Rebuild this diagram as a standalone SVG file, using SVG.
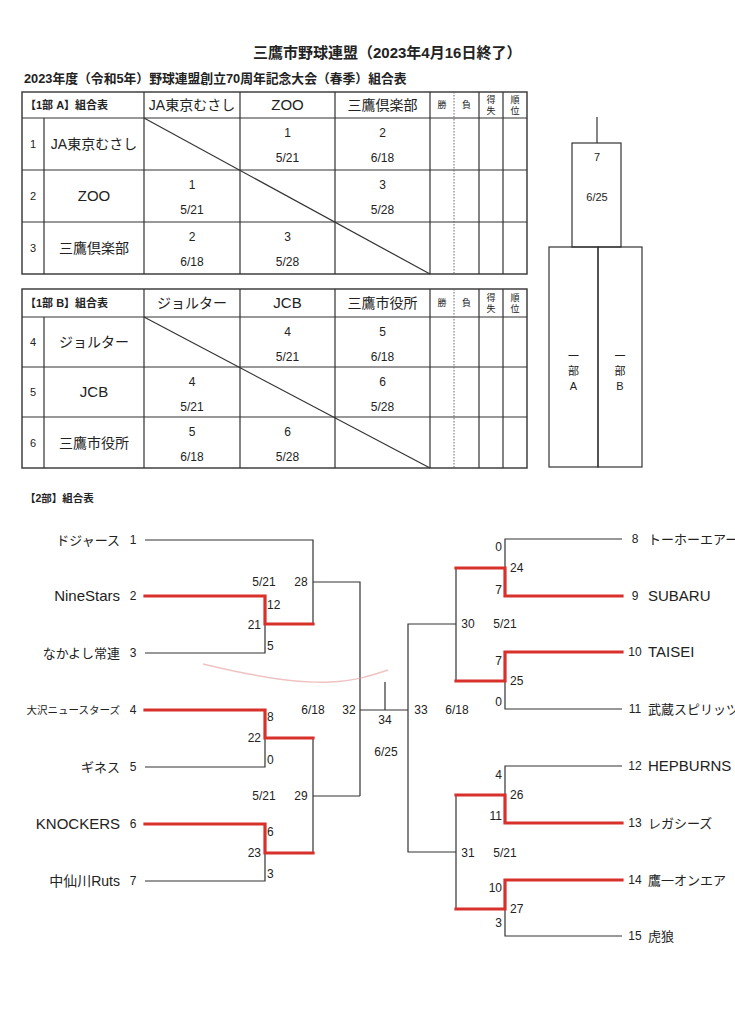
<svg xmlns="http://www.w3.org/2000/svg" width="735" height="1024" viewBox="0 0 735 1024">
<style>
.bg{fill:#fff}
.ln{stroke:#333;stroke-width:1.2;fill:none}
.ot{stroke:#333;stroke-width:1.4;fill:none}
.dt{stroke:#666;stroke-width:1;stroke-dasharray:1.5 1.5;fill:none}
.rd{stroke:#d8302a;stroke-width:3.2;fill:none;stroke-linecap:square}
.t{font-family:'Liberation Sans','Noto Sans CJK JP',sans-serif;fill:#222}
.b{font-weight:bold}
.m{text-anchor:middle}
.e{text-anchor:end}
.n12{font-size:12px}
.n13{font-size:13px}
.h14{font-size:14px}
.h15{font-size:15px}
.s9{font-size:9px}
.s11{font-size:11px}
</style>
<rect class="bg" x="0" y="0" width="735" height="1024"/>

<g id="title">
<text class="t b" x="253" y="58" style="font-size:15px">三鷹市野球連盟（2023年4月16日終了）</text>
<text class="t b" x="24" y="83" style="font-size:12.8px">2023年度（令和5年）野球連盟創立70周年記念大会（春季）組合表</text>
</g>

<g id="tableA">
<rect class="ot" x="22" y="92" width="505" height="182"/>
<path class="ln" d="M22,118H527M22,170H527M22,222H527M44,118V274M144,92V274M240,92V274M335,92V274M430,92V274M479,92V274M503,92V274"/>
<path class="dt" d="M454,92V274"/>
<path class="ln" d="M144,118L430,274"/>
<text class="t b s11" x="25" y="109">【1部 A】組合表</text>
<text class="t h14 m" x="192" y="110">JA東京むさし</text>
<text class="t h15 m" x="287.5" y="110">ZOO</text>
<text class="t h14 m" x="382.5" y="110">三鷹倶楽部</text>
<text class="t s9 m" x="442" y="108">勝</text>
<text class="t s9 m" x="466.5" y="108">負</text>
<text class="t s9 m" x="491" y="103">得</text><text class="t s9 m" x="491" y="114">失</text>
<text class="t s9 m" x="515" y="103">順</text><text class="t s9 m" x="515" y="114">位</text>
<text class="t s11 m" x="33" y="148">1</text>
<text class="t h14 m" x="94" y="149">JA東京むさし</text>
<text class="t s11 m" x="33" y="200">2</text>
<text class="t h15 m" x="94" y="201">ZOO</text>
<text class="t s11 m" x="33" y="252">3</text>
<text class="t h14 m" x="94" y="253">三鷹倶楽部</text>
<text class="t n12 m" x="287.5" y="137">1</text><text class="t n12 m" x="287.5" y="162">5/21</text>
<text class="t n12 m" x="382.5" y="137">2</text><text class="t n12 m" x="382.5" y="162">6/18</text>
<text class="t n12 m" x="192" y="189">1</text><text class="t n12 m" x="192" y="214">5/21</text>
<text class="t n12 m" x="382.5" y="189">3</text><text class="t n12 m" x="382.5" y="214">5/28</text>
<text class="t n12 m" x="192" y="241">2</text><text class="t n12 m" x="192" y="266">6/18</text>
<text class="t n12 m" x="287.5" y="241">3</text><text class="t n12 m" x="287.5" y="266">5/28</text>
</g>

<g id="tableB">
<rect class="ot" x="22" y="289" width="505" height="179"/>
<path class="ln" d="M22,317H527M22,367H527M22,417H527M44,317V468M144,289V468M240,289V468M335,289V468M430,289V468M479,289V468M503,289V468"/>
<path class="dt" d="M454,289V468"/>
<path class="ln" d="M144,317L430,468"/>
<text class="t b s11" x="25" y="307">【1部 B】組合表</text>
<text class="t h14 m" x="192" y="308">ジョルター</text>
<text class="t h15 m" x="287.5" y="308">JCB</text>
<text class="t h14 m" x="382.5" y="308">三鷹市役所</text>
<text class="t s9 m" x="442" y="306">勝</text>
<text class="t s9 m" x="466.5" y="306">負</text>
<text class="t s9 m" x="491" y="301">得</text><text class="t s9 m" x="491" y="312">失</text>
<text class="t s9 m" x="515" y="301">順</text><text class="t s9 m" x="515" y="312">位</text>
<text class="t s11 m" x="33" y="346">4</text>
<text class="t h14 m" x="94" y="347">ジョルター</text>
<text class="t s11 m" x="33" y="396">5</text>
<text class="t h15 m" x="94" y="397">JCB</text>
<text class="t s11 m" x="33" y="447">6</text>
<text class="t h14 m" x="94" y="448">三鷹市役所</text>
<text class="t n12 m" x="287.5" y="336">4</text><text class="t n12 m" x="287.5" y="361">5/21</text>
<text class="t n12 m" x="382.5" y="336">5</text><text class="t n12 m" x="382.5" y="361">6/18</text>
<text class="t n12 m" x="192" y="386">4</text><text class="t n12 m" x="192" y="411">5/21</text>
<text class="t n12 m" x="382.5" y="386">6</text><text class="t n12 m" x="382.5" y="411">5/28</text>
<text class="t n12 m" x="192" y="436">5</text><text class="t n12 m" x="192" y="461">6/18</text>
<text class="t n12 m" x="287.5" y="436">6</text><text class="t n12 m" x="287.5" y="461">5/28</text>
</g>

<g id="final1">
<path class="ln" d="M597,117V143"/>
<rect class="ln" x="572" y="143" width="49" height="104"/>
<text class="t s11 m" x="597" y="161">7</text>
<text class="t s11 m" x="597" y="201">6/25</text>
</g>
<g id="div1A">
<rect class="ln" x="549" y="247" width="49" height="220"/>
<text class="t s11 m" x="573.5" y="360">一</text>
<text class="t s11 m" x="573.5" y="375">部</text>
<text class="t s11 m" x="573.5" y="390">A</text>
</g>
<g id="div1B">
<rect class="ln" x="598" y="247" width="44" height="220"/>
<text class="t s11 m" x="620" y="360">一</text>
<text class="t s11 m" x="620" y="375">部</text>
<text class="t s11 m" x="620" y="390">B</text>
</g>

<text class="t b" x="25" y="502" style="font-size:10.5px">【2部】組合表</text>

<g id="connectors">
<path class="ln" d="M145,540H313V624M145,653H265V624M313,582H360V796M145,767H265V738M313,738V853M145,881H265V853M313,796H360M360,710H408M385,682V710"/>
<path class="ln" d="M622,539H505V596M622,709H505V681M456,568V681M456,624H408V852H456M622,766H505V823M622,936H505V909M456,795V909"/>
<path class="rd" d="M145,596H265V624H313M145,710H265V738H313M145,824H265V853H313"/>
<path class="rd" d="M622,596H505V568H456M622,652H505V681H456M622,823H505V795H456M622,880H505V909H456"/>
<path d="M203,664C240,673 290,684 330,682C355,681 370,676 388,670" fill="none" stroke="#e59a9a" stroke-width="1.4" opacity="0.6"/>
</g>

<g id="team1"><text class="t n13 e" x="120" y="545">ドジャース</text><text class="t n12 m" x="133" y="544">1</text></g>
<g id="team2"><text class="t h15 e" x="120" y="601">NineStars</text><text class="t n12 m" x="133" y="600">2</text></g>
<g id="team3"><text class="t n13 e" x="120" y="658">なかよし常連</text><text class="t n12 m" x="133" y="657">3</text></g>
<g id="team4"><text class="t e" x="120" y="714" style="font-size:10.5px">大沢ニュースターズ</text><text class="t n12 m" x="133" y="714">4</text></g>
<g id="team5"><text class="t n13 e" x="120" y="772">ギネス</text><text class="t n12 m" x="133" y="771">5</text></g>
<g id="team6"><text class="t h15 e" x="120" y="829">KNOCKERS</text><text class="t n12 m" x="133" y="828">6</text></g>
<g id="team7"><text class="t h14 e" x="120" y="886">中仙川Ruts</text><text class="t n12 m" x="133" y="885">7</text></g>

<g id="team8"><text class="t n12 m" x="635" y="543">8</text><text class="t n13" x="648" y="544">トーホーエアース</text></g>
<g id="team9"><text class="t n12 m" x="635" y="600">9</text><text class="t h15" x="648" y="601">SUBARU</text></g>
<g id="team10"><text class="t n12 m" x="635" y="656">10</text><text class="t h15" x="648" y="657">TAISEI</text></g>
<g id="team11"><text class="t n12 m" x="635" y="713">11</text><text class="t n13" x="648" y="714">武蔵スピリッツ</text></g>
<g id="team12"><text class="t n12 m" x="635" y="770">12</text><text class="t h15" x="648" y="771">HEPBURNS</text></g>
<g id="team13"><text class="t n12 m" x="635" y="827">13</text><text class="t n13" x="648" y="828">レガシーズ</text></g>
<g id="team14"><text class="t n12 m" x="635" y="884">14</text><text class="t n13" x="648" y="885">鷹一オンエア</text></g>
<g id="team15"><text class="t n12 m" x="635" y="940">15</text><text class="t n13" x="648" y="941">虎狼</text></g>

<g id="scores">
<text class="t n12 m" x="264" y="586">5/21</text>
<text class="t n12 m" x="301" y="586">28</text>
<text class="t n12" x="267" y="609">12</text>
<text class="t n12 e" x="261" y="629">21</text>
<text class="t n12" x="267" y="650">5</text>
<text class="t n12 m" x="313" y="714">6/18</text>
<text class="t n12 m" x="349" y="714">32</text>
<text class="t n12 m" x="385" y="724">34</text>
<text class="t n12 m" x="386" y="756">6/25</text>
<text class="t n12" x="267" y="721">8</text>
<text class="t n12 e" x="261" y="742">22</text>
<text class="t n12" x="267" y="764">0</text>
<text class="t n12 m" x="264" y="800">5/21</text>
<text class="t n12 m" x="301" y="800">29</text>
<text class="t n12" x="267" y="836">6</text>
<text class="t n12 e" x="261" y="857">23</text>
<text class="t n12" x="267" y="878">3</text>
<text class="t n12 e" x="502" y="551">0</text>
<text class="t n12" x="510" y="572">24</text>
<text class="t n12 e" x="502" y="594">7</text>
<text class="t n12 m" x="468" y="628">30</text>
<text class="t n12 m" x="505" y="628">5/21</text>
<text class="t n12 e" x="502" y="665">7</text>
<text class="t n12" x="510" y="685">25</text>
<text class="t n12 e" x="502" y="706">0</text>
<text class="t n12 m" x="421" y="714">33</text>
<text class="t n12 m" x="457" y="714">6/18</text>
<text class="t n12 e" x="502" y="779">4</text>
<text class="t n12" x="510" y="799">26</text>
<text class="t n12 e" x="502" y="820">11</text>
<text class="t n12 m" x="468" y="857">31</text>
<text class="t n12 m" x="505" y="857">5/21</text>
<text class="t n12 e" x="502" y="892">10</text>
<text class="t n12" x="510" y="913">27</text>
<text class="t n12 e" x="502" y="927">3</text>
</g>
</svg>
